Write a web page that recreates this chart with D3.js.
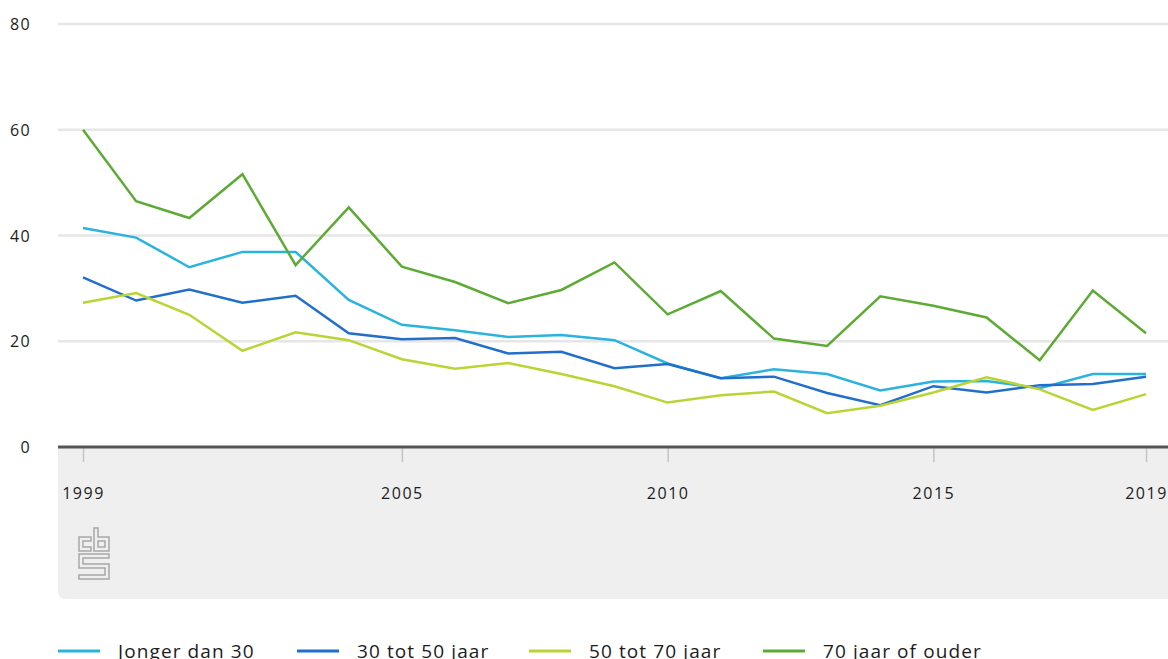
<!DOCTYPE html>
<html>
<head>
<meta charset="utf-8">
<script src="https://cdn.jsdelivr.net/npm/d3@7"></script>
<style>
  html, body { margin: 0; padding: 0; background: #fff; overflow: hidden; }
  svg { display: block; font-family: "Open Sans", "Noto Sans", sans-serif; }
</style>
</head>
<body>
<svg width="1168" height="659"></svg>
<script>
const years = d3.range(1999, 2020);
const xTickYears = [1999, 2005, 2010, 2015, 2019];
const yTicks = [0, 20, 40, 60, 80];

const seriesNames = ["Jonger dan 30", "30 tot 50 jaar", "50 tot 70 jaar", "70 jaar of ouder"];
const seriesColors = ["#2bb3df", "#216fcb", "#b9d534", "#5dab35"];

const jongerDan30 = [41.4, 39.6, 34.0, 36.9, 36.9, 27.8, 23.1, 22.1, 20.8, 21.2, 20.2,
                     15.8, 13.0, 14.7, 13.8, 10.7, 12.4, 12.5, 11.1, 13.8, 13.8];
const tot50 = [32.1, 27.7, 29.8, 27.3, 28.6, 21.5, 20.4, 20.6, 17.7, 18.0, 14.9,
               15.7, 13.0, 13.3, 10.2, 7.9, 11.5, 10.3, 11.7, 11.9, 13.3];
const tot70 = [27.3, 29.1, 25.0, 18.2, 21.7, 20.2, 16.6, 14.8, 15.9, 13.8, 11.5,
               8.4, 9.8, 10.5, 6.4, 7.8, 10.3, 13.2, 10.9, 7.0, 10.0];
const ouder70 = [60.0, 46.5, 43.3, 51.6, 34.4, 45.3, 34.1, 31.2, 27.2, 29.7, 34.9,
                 25.1, 29.5, 20.5, 19.1, 28.5, 26.7, 24.5, 16.4, 29.6, 21.5];

const seriesValues = [jongerDan30, tot50, tot70, ouder70];

const svg = d3.select("svg");

const x = d3.scaleLinear()
    .domain([1999, 2019])
    .range([83, 1146]);

const y = d3.scaleLinear()
    .domain([0, 80])
    .range([447, 24]);

// grey band under the axis
svg.append("path")
    .attr("fill", "#efefef")
    .attr("d", "M58,448 H1180 V599 H66 Q58,599 58,591 Z");

// gridlines
svg.append("g")
    .selectAll("line")
    .data(yTicks.filter(d => d > 0))
    .enter()
    .append("line")
    .attr("x1", 58)
    .attr("x2", 1168)
    .attr("y1", d => y(d))
    .attr("y2", d => y(d))
    .attr("stroke", "#e6e6e6")
    .attr("stroke-width", 2.5);

// y labels
svg.append("g")
    .selectAll("text")
    .data(yTicks)
    .enter()
    .append("text")
    .attr("x", 31)
    .attr("y", d => y(d) + 6)
    .attr("text-anchor", "end")
    .attr("font-size", "16px")
    .attr("letter-spacing", "1.3px")
    .attr("fill", "#1c1c1c")
    .text(d => d);

// x axis
const xAxis = d3.axisBottom(x)
    .tickValues(xTickYears)
    .tickFormat(d3.format("d"))
    .tickSize(14)
    .tickPadding(26);

const gx = svg.append("g")
    .attr("transform", "translate(0, 448)")
    .call(xAxis);

gx.select(".domain").remove();
gx.selectAll(".tick line").attr("stroke", "#c4c4c4").attr("stroke-width", 1.5);
gx.selectAll(".tick text")
    .attr("font-size", "16px")
    .attr("letter-spacing", "1.5px")
    .attr("fill", "#1c1c1c")
    .attr("font-family", "\"Open Sans\", sans-serif");

svg.append("line")
    .attr("x1", 58)
    .attr("x2", 1168)
    .attr("y1", 447)
    .attr("y2", 447)
    .attr("stroke", "#555")
    .attr("stroke-width", 3);

// lines
const line = d3.line()
    .x((d, i) => x(years[i]))
    .y(d => y(d));

svg.append("g")
    .selectAll("path")
    .data(seriesValues)
    .enter()
    .append("path")
    .attr("fill", "none")
    .attr("stroke", (d, i) => seriesColors[i])
    .attr("stroke-width", 2.5)
    .attr("stroke-linejoin", "miter")
    .attr("d", line);

// cbs logo
const logo = svg.append("g")
    .attr("fill", "none")
    .attr("stroke", "#a8a8a8")
    .attr("stroke-width", 1.5);

logo.append("path").attr("d", "M91,537 H79 V551 H91 V547 H83 V541 H91 Z");
logo.append("path").attr("d", "M94,528 H98 V537 H109 V551 H94 Z M98,541 H105 V547 H98 Z");
logo.append("path").attr("d", "M79,554 H109 V558 H83 V564 H109 V579 H79 V575 H105 V568 H79 Z");

// legend
const legend = svg.append("g")
    .selectAll("g")
    .data(seriesNames)
    .enter()
    .append("g")
    .attr("transform", (d, i) => `translate(${[58, 297, 529, 763][i]}, 651)`);

legend.append("line")
    .attr("x1", 0)
    .attr("x2", 42)
    .attr("stroke", (d, i) => seriesColors[i])
    .attr("stroke-width", 3);

legend.append("text")
    .attr("x", 60)
    .attr("y", 7)
    .attr("font-size", "19px")
    .attr("letter-spacing", "1.1px")
    .attr("fill", "#1c1c1c")
    .text(d => d);
</script>
</body>
</html>
